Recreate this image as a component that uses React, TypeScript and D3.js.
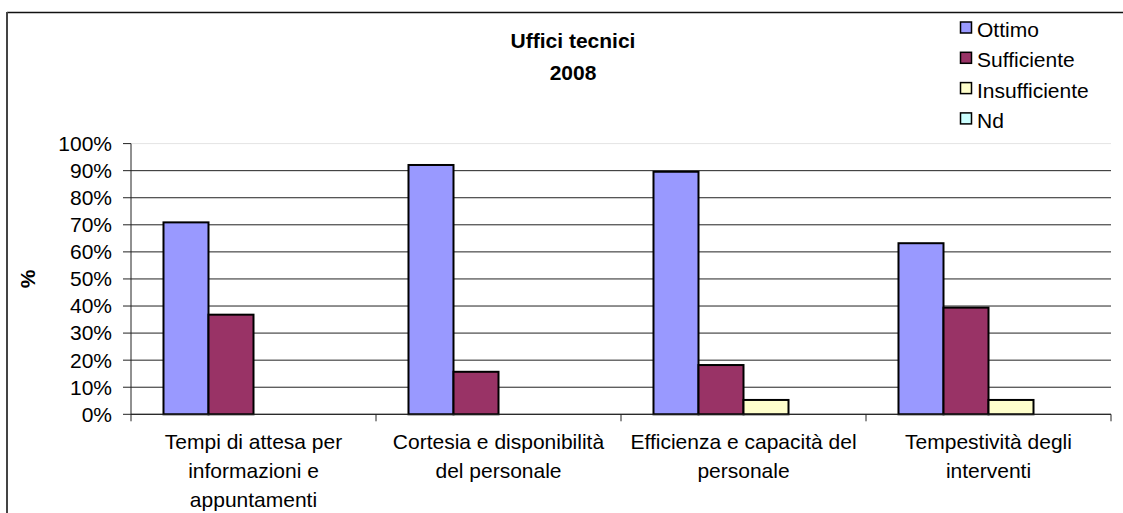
import React from "react";
import * as d3 from "d3";

// Survey categories, each label pre-wrapped into lines
const categories = [
  "Tempi di attesa per informazioni e appuntamenti",
  "Cortesia e disponibilità del personale",
  "Efficienza e capacità del personale",
  "Tempestività degli interventi",
];
const categoryLines = [
  ["Tempi di attesa per", "informazioni e", "appuntamenti"],
  ["Cortesia e disponibilità", "del personale"],
  ["Efficienza e capacità del", "personale"],
  ["Tempestività degli", "interventi"],
];

const seriesNames = ["Ottimo", "Sufficiente", "Insufficiente", "Nd"];
const seriesColors = ["#9999FF", "#993366", "#FFFFCC", "#CCFFFF"];

const ottimo = [0.709, 0.921, 0.896, 0.632];
const sufficiente = [0.368, 0.157, 0.182, 0.394];
const insufficiente = [0, 0, 0.053, 0.053];
const nd = [0, 0, 0, 0];
const seriesValues = [ottimo, sufficiente, insufficiente, nd];

const yTicks = [0, 0.1, 0.2, 0.3, 0.4, 0.5, 0.6, 0.7, 0.8, 0.9, 1];

const titleLines = ["Uffici tecnici", "2008"];

const W = 1123;
const H = 513;
const FONT = "'Liberation Sans', Arial, sans-serif";
const FS = 21;

export default function App() {
  const plot = { left: 131, right: 1111, top: 143.6, bottom: 414.3 };

  const x0 = d3
    .scaleBand<string>()
    .domain(categories)
    .range([plot.left, plot.right])
    .paddingInner(0)
    .paddingOuter(0);
  const x1 = d3
    .scaleBand<string>()
    .domain(seriesNames)
    .range([0, x0.bandwidth()])
    .paddingInner(0)
    .paddingOuter(0.722);
  const y = d3.scaleLinear().domain([0, 1]).range([plot.bottom, plot.top]);
  const pct = d3.format(".0%");

  return (
    <svg
      width={W}
      height={H}
      style={{ position: "absolute", left: 0, top: 0, background: "#fff" }}
      fontFamily={FONT}
    >
      <rect x={0} y={0} width={W} height={H} fill="#fff" />
      {/* chart frame */}
      <line x1={7} x2={W} y1={12.5} y2={12.5} stroke="#111" strokeWidth={1.5} />
      <line x1={7} x2={7} y1={12} y2={H} stroke="#444" strokeWidth={2} />

      {/* title */}
      <text x={573} textAnchor="middle" fontSize={FS} fontWeight="bold" fill="#000">
        {titleLines.map((t, i) => (
          <tspan key={i} x={573} y={48 + i * 32}>
            {t}
          </tspan>
        ))}
      </text>

      {/* gridlines */}
      {yTicks.map((t) => (
        <line
          key={t}
          x1={plot.left}
          x2={plot.right}
          y1={y(t)}
          y2={y(t)}
          stroke={t === 1 ? "#e4e4e4" : "#222"}
          strokeWidth={1}
        />
      ))}

      {/* y axis */}
      <line x1={plot.left} x2={plot.left} y1={plot.top} y2={plot.bottom} stroke="#222" strokeWidth={1} />
      {yTicks.map((t) => (
        <g key={"yt" + t}>
          <line x1={plot.left - 8} x2={plot.left} y1={y(t)} y2={y(t)} stroke="#222" />
          <text
            x={112}
            y={y(t)}
            dy="0.35em"
            textAnchor="end"
            fontSize={FS}
            fill="#000"
          >
            {pct(t)}
          </text>
        </g>
      ))}
      <text
        transform={`translate(28,${(plot.top + plot.bottom) / 2}) rotate(-90)`}
        textAnchor="middle"
        dy="0.35em"
        fontSize={FS}
        fontWeight="bold"
        fill="#000"
      >
        %
      </text>

      {/* bars */}
      {categories.map((c, ci) => (
        <g key={c} transform={`translate(${x0(c)},0)`}>
          {seriesNames.map((s, si) => {
            const v = seriesValues[si][ci];
            if (v <= 0) return null;
            return (
              <rect
                key={s}
                x={x1(s)}
                y={y(v)}
                width={x1.bandwidth()}
                height={y(0) - y(v)}
                fill={seriesColors[si]}
                stroke="#000"
                strokeWidth={2}
              />
            );
          })}
        </g>
      ))}

      {/* x axis */}
      <line x1={plot.left} x2={plot.right} y1={plot.bottom} y2={plot.bottom} stroke="#222" />
      {categories.concat([""]).map((c, i) => {
        const xx = i < categories.length ? (x0(c) as number) : plot.right;
        return (
          <line key={"xt" + i} x1={xx} x2={xx} y1={plot.bottom} y2={plot.bottom + 7} stroke="#222" />
        );
      })}
      {categories.map((c, ci) => {
        const cx = (x0(c) as number) + x0.bandwidth() / 2;
        return (
          <text key={"xl" + c} textAnchor="middle" fontSize={FS} fill="#000">
            {categoryLines[ci].map((l, li) => (
              <tspan key={li} x={cx} y={449 + li * 29}>
                {l}
              </tspan>
            ))}
          </text>
        );
      })}

      {/* legend */}
      {seriesNames.map((s, i) => (
        <g key={"lg" + s} transform={`translate(960,${22 + i * 30.3})`}>
          <rect x={0.5} y={0} width={11} height={11} fill={seriesColors[i]} stroke="#000" strokeWidth={1.5} />
          <text x={17} y={15} fontSize={FS} fill="#000">
            {s}
          </text>
        </g>
      ))}
    </svg>
  );
}
